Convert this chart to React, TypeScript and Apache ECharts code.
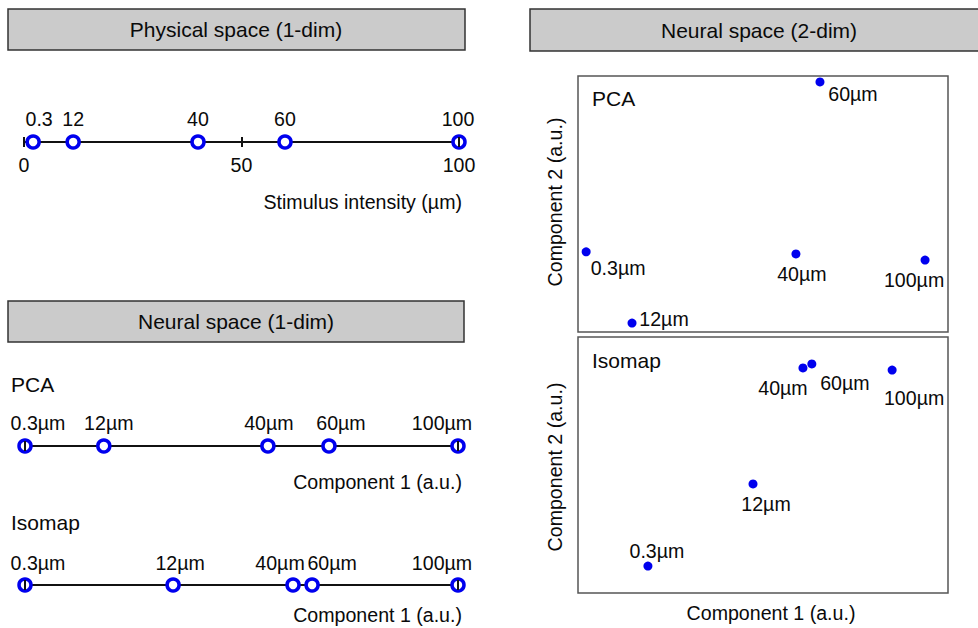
import React, { useEffect, useRef } from "react";
import * as echarts from "echarts";

// ---------- data ----------
const physLabels = ["0.3", "12", "40", "60", "100"];
const physPos = [2.1, 11.3, 40, 60, 100]; // plotted positions (µm)
const physTicks = [0, 50, 100];

const stimLabels = ["0.3µm", "12µm", "40µm", "60µm", "100µm"];
const pca1D = [0, 18.2, 56.1, 70.2, 100];
const iso1D = [0, 34.2, 61.9, 66.3, 100];

const pca2Dx = [2.2, 14.6, 58.9, 65.4, 93.8];
const pca2Dy = [31.3, 3.5, 30.5, 97.7, 28.1];
const iso2Dx = [18.9, 47.3, 60.8, 63.2, 84.9];
const iso2Dy = [10.5, 42.6, 87.9, 89.5, 87.1];

// ---------- label styling offsets (px) ----------
const physLabelDx = [6, 0, 0, 0, -1];
const pca1DLabelDx = [13, 5, 1, 12, -16];
const iso1DLabelDx = [13, 7, -13, 20, -16];
const pca2DOffsets = [[32, 16], [32, -4], [6, 20], [33, 12], [-11, 20]];
const iso2DOffsets = [[9, -15], [13, 20], [-20, 20], [33, 19], [22, 28]];

const FONT = "'Liberation Sans', Arial, Helvetica, sans-serif";
const BLUE = "#0000ee";
const TXT = "#0a0a0a";
const LBL = 19.6;

function txt(text: string, x: number, y: number, size: number, align: string, extra: any = {}) {
  return {
    type: "text",
    x,
    y,
    z: 10,
    ...extra,
    style: {
      text,
      fill: TXT,
      fontSize: size,
      fontFamily: FONT,
      align,
      verticalAlign: "middle",
      textAlign: align,
      textVerticalAlign: "middle",
    },
  };
}

function header(text: string, x: number, y: number, w: number, h: number, cx: number) {
  return [
    {
      type: "rect",
      z: 5,
      shape: { x, y, width: w, height: h },
      style: { fill: "#cbcbcb", stroke: "#333", lineWidth: 1.5 },
    },
    txt(text, cx, y + h / 2, 21, "center"),
  ];
}

export default function App() {
  const ref = useRef<HTMLDivElement>(null);

  useEffect(() => {
    if (!ref.current) return;
    const chart = echarts.init(ref.current, undefined, { renderer: "svg" });

    const rows = [
      { left: 24, width: 435, line: 142, max: 100, interval: 50, labels: true },
      { left: 25, width: 433, line: 446, max: 100, interval: 100, labels: false },
      { left: 25, width: 433, line: 585, max: 100, interval: 100, labels: false },
    ];

    const grids: any[] = rows.map((r) => ({
      left: r.left,
      width: r.width,
      top: r.line - 5,
      height: 10,
      containLabel: false,
    }));
    grids.push({
      left: 578, top: 76, width: 370, height: 256,
      show: true, borderColor: "#555", borderWidth: 1.5, backgroundColor: "transparent",
    });
    grids.push({
      left: 578, top: 337, width: 370, height: 256,
      show: true, borderColor: "#555", borderWidth: 1.5, backgroundColor: "transparent",
    });

    const xAxes: any[] = [];
    const yAxes: any[] = [];
    rows.forEach((r, i) => {
      // line axis
      xAxes.push({
        gridIndex: i, type: "value", min: 0, max: r.max, position: "top", z: 1,
        axisLine: { show: true, onZero: true, lineStyle: { color: "#111", width: 2 } },
        axisTick: { show: false }, axisLabel: { show: false }, splitLine: { show: false },
      });
      // tick axis
      xAxes.push({
        gridIndex: i, type: "value", min: 0, max: r.max, interval: r.interval, position: "bottom", z: 5,
        axisLine: { show: false, onZero: false },
        axisTick: { show: true, inside: true, length: 10, lineStyle: { color: "#111", width: 2 } },
        axisLabel: {
          show: r.labels, margin: 8, fontSize: LBL, fontFamily: FONT, color: TXT,
          customValues: physTicks,
        },
        splitLine: { show: false },
      });
      yAxes.push({ gridIndex: i, type: "value", min: -1, max: 1, show: false });
    });
    [3, 4].forEach((g) => {
      xAxes.push({ gridIndex: g, type: "value", min: 0, max: 100, show: false, splitLine: { show: false } });
      yAxes.push({ gridIndex: g, type: "value", min: 0, max: 100, show: false, splitLine: { show: false } });
    });

    const ringSeries = (idx: number, pos: number[], labels: string[], dx: number[], dy: number) => ({
      type: "scatter",
      xAxisIndex: idx * 2,
      yAxisIndex: idx,
      z: 3,
      symbol: "circle",
      symbolSize: 12,
      itemStyle: { color: "#fff", borderColor: BLUE, borderWidth: 3.5, opacity: 1 },
      emphasis: { disabled: true },
      data: pos.map((v, k) => ({
        value: [v, 0],
        label: { formatter: labels[k], offset: [dx[k], dy] },
      })),
      label: {
        show: true, position: "inside", fontSize: LBL, fontFamily: FONT, color: TXT,
        align: "center", verticalAlign: "middle",
      },
    });

    const dotSeries = (gi: number, xs: number[], ys: number[], offs: number[][]) => ({
      type: "scatter",
      xAxisIndex: 6 + (gi - 3),
      yAxisIndex: gi,
      symbol: "circle",
      symbolSize: 9,
      itemStyle: { color: BLUE, opacity: 1 },
      emphasis: { disabled: true },
      data: xs.map((x, k) => ({
        value: [x, ys[k]],
        label: { formatter: stimLabels[k], offset: offs[k] },
      })),
      label: {
        show: true, position: "inside", fontSize: LBL, fontFamily: FONT, color: TXT,
        align: "center", verticalAlign: "middle",
      },
    });

    const graphics: any[] = [
      ...header("Physical space (1-dim)", 8, 9, 457, 41, 236),
      ...header("Neural space (1-dim)", 8, 301, 456, 41, 236),
      ...header("Neural space (2-dim)", 530, 9, 460, 42, 759),
      txt("Stimulus intensity (µm)", 462, 202, LBL, "right"),
      txt("PCA", 11, 384, 21, "left"),
      txt("Component 1 (a.u.)", 462, 482, LBL, "right"),
      txt("Isomap", 11, 522, 21, "left"),
      txt("Component 1 (a.u.)", 462, 615, LBL, "right"),
      txt("PCA", 592, 98, 21, "left"),
      txt("Isomap", 592, 360, 21, "left"),
      txt("Component 1 (a.u.)", 771, 613, LBL, "center"),
      txt("Component 2 (a.u.)", 555, 202, LBL, "center", { rotation: Math.PI / 2 }),
      txt("Component 2 (a.u.)", 555, 467, LBL, "center", { rotation: Math.PI / 2 }),
    ];

    chart.setOption({
      animation: false,
      backgroundColor: "#fff",
      textStyle: { fontFamily: FONT },
      grid: grids,
      xAxis: xAxes,
      yAxis: yAxes,
      series: [
        ringSeries(0, physPos, physLabels, physLabelDx, -23),
        ringSeries(1, pca1D, stimLabels, pca1DLabelDx, -23),
        ringSeries(2, iso1D, stimLabels, iso1DLabelDx, -22),
        dotSeries(3, pca2Dx, pca2Dy, pca2DOffsets),
        dotSeries(4, iso2Dx, iso2Dy, iso2DOffsets),
      ],
      graphic: { elements: graphics },
    });

    return () => chart.dispose();
  }, []);

  return (
    <div
      ref={ref}
      style={{ position: "absolute", left: 0, top: 0, width: 978, height: 628 }}
    />
  );
}
